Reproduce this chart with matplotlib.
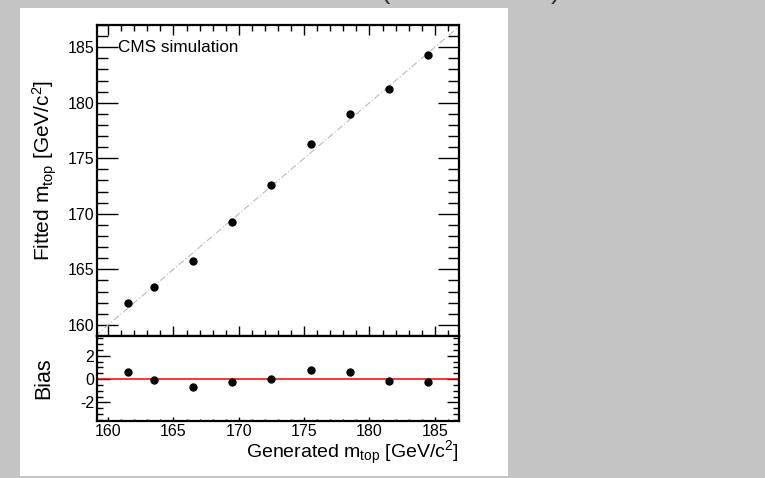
import matplotlib
matplotlib.use("Agg")
import matplotlib.pyplot as plt
from matplotlib.patches import Rectangle
from matplotlib.ticker import MultipleLocator

plt.rcParams['font.family'] = ['Liberation Sans', 'DejaVu Sans']
plt.rcParams['mathtext.default'] = 'regular'

# generated top mass points and fitted results
generated = [161.5, 163.5, 166.5, 169.5, 172.5, 175.5, 178.5, 181.5, 184.5]
fitted = [162.0, 163.4, 165.78, 169.25, 172.58, 176.3, 179.0, 181.27, 184.26]
bias = [0.58, -0.09, -0.65, -0.22, 0.04, 0.82, 0.57, -0.18, -0.22]

W, H = 765, 478
fig = plt.figure(figsize=(W / 100, H / 100), dpi=100)
fig.patch.set_facecolor('#c4c4c4')

# white canvas pad
fig.patches.append(Rectangle((20 / W, 1 - 476 / H), 488 / W, 468 / H,
                             transform=fig.transFigure, facecolor='white',
                             edgecolor='none', zorder=-5))

# clipped title remnants
fig.text(385 / W, 1 - 4 / H, "(", fontsize=20, color='#333333', ha='center', va='bottom')
fig.text(555 / W, 1 - 4 / H, ")", fontsize=20, color='#333333', ha='center', va='bottom')

ax1 = fig.add_axes([97 / W, 1 - 336 / H, 362 / W, 311 / H])
ax2 = fig.add_axes([97 / W, 1 - 421 / H, 362 / W, 85 / H])

xlo, xhi = 159.15, 186.85
tsize = 11.5

# upper panel
ax1.plot([159, 187], [159, 187], color='#bbbbbb', lw=0.8, ls=(0, (6, 2, 1, 2)))
ax1.plot(generated, fitted, 'o', color='black', ms=5)
ax1.set_xlim(xlo, xhi)
ax1.set_ylim(159, 187)
ax1.xaxis.set_major_locator(MultipleLocator(5))
ax1.xaxis.set_minor_locator(MultipleLocator(1))
ax1.yaxis.set_major_locator(MultipleLocator(5))
ax1.yaxis.set_minor_locator(MultipleLocator(1))
ax1.tick_params(which='both', direction='in', top=True, right=True, labelbottom=False,
                labelsize=tsize, pad=2, width=1)
ax1.tick_params(axis='y', which='major', length=15)
ax1.tick_params(axis='y', which='minor', length=8)
ax1.tick_params(axis='x', which='major', length=7)
ax1.tick_params(axis='x', which='minor', length=4)
ax1.text(160.75, 185, "CMS simulation", fontsize=12.3, va='center', ha='left')

# lower panel
ax2.axhline(0, color='red', lw=1.1)
ax2.plot(generated, bias, 'o', color='black', ms=5)
ax2.set_xlim(xlo, xhi)
ax2.set_ylim(-3.6, 3.7)
ax2.xaxis.set_major_locator(MultipleLocator(5))
ax2.xaxis.set_minor_locator(MultipleLocator(1))
ax2.yaxis.set_major_locator(MultipleLocator(2))
ax2.yaxis.set_minor_locator(MultipleLocator(0.5))
ax2.tick_params(which='both', direction='in', right=True, labelsize=tsize, pad=2, width=1)
ax2.tick_params(axis='y', which='major', length=9)
ax2.tick_params(axis='y', which='minor', length=4)
ax2.tick_params(axis='x', which='major', length=3)
ax2.tick_params(axis='x', which='minor', length=1.5)
ax2.set_yticklabels(['-2' if t == -2 else '%g' % t for t in ax2.get_yticks()])

for ax in (ax1, ax2):
    for s in ax.spines.values():
        s.set_linewidth(1.6)

fig.text(45 / W, 1 - 170 / H, "Fitted m$_{top}$ [GeV/c$^{2}$]", rotation=90,
         fontsize=15, ha='center', va='center')
fig.text(44 / W, 1 - 378 / H, "Bias", rotation=90, fontsize=15.5, ha='center', va='center')
fig.text(459 / W, 1 - 453 / H, "Generated m$_{top}$ [GeV/c$^{2}$]",
         fontsize=14, ha='right', va='center')

fig.savefig("out.png", dpi=100, facecolor=fig.get_facecolor())
